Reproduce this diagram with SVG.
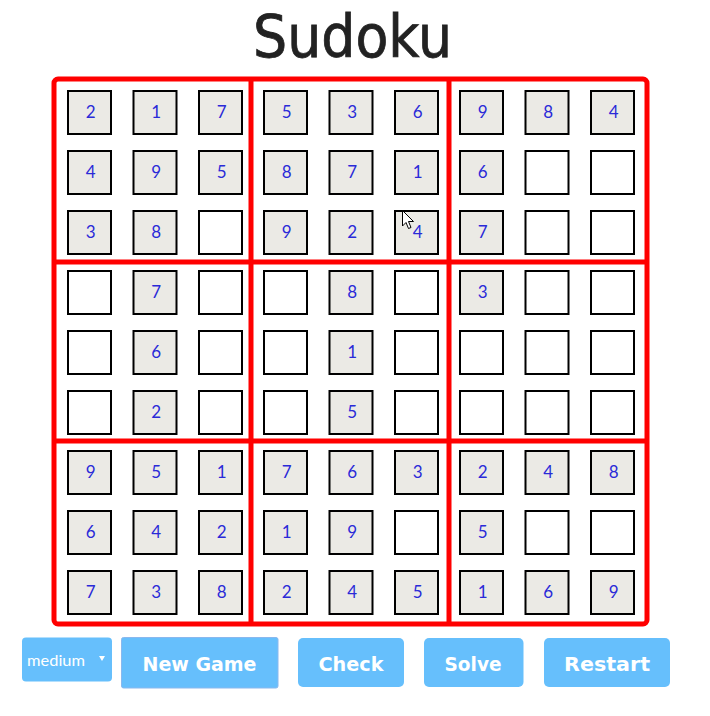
<svg xmlns="http://www.w3.org/2000/svg" width="710" height="716" viewBox="0 0 710 716">
<style>
.c{stroke:#000;stroke-width:2}
.g{fill:#ebeae5}
.e{fill:#fff}
.d{font-family:Lato,"Noto Sans",sans-serif;font-size:17px;fill:#2a2ad8;text-anchor:middle;transform:translateX(1.2px)}
.btn{fill:#66bffc}
.bt{font-family:"Comic Sans MS","DejaVu Sans",sans-serif;font-weight:bold;font-size:19px;fill:#fff;text-anchor:middle}
.red{stroke:#f00;stroke-width:5;fill:none}
</style>
<rect width="710" height="716" fill="#fff"/>
<text x="352.5" y="57" font-family="'Comic Sans MS','DejaVu Sans',sans-serif" font-size="58" fill="#222" stroke="#222" stroke-width="0.8" text-anchor="middle" textLength="199" lengthAdjust="spacingAndGlyphs">Sudoku</text>
<g id="cells">
<g id="r1">
<rect class="c g" x="68" y="91" width="43" height="43"/><text class="d" x="89.5" y="118">2</text>
<rect class="c g" x="133.5" y="91" width="43" height="43"/><text class="d" x="155" y="118">1</text>
<rect class="c g" x="199" y="91" width="43" height="43"/><text class="d" x="220.5" y="118">7</text>
<rect class="c g" x="264" y="91" width="43" height="43"/><text class="d" x="285.5" y="118">5</text>
<rect class="c g" x="329.5" y="91" width="43" height="43"/><text class="d" x="351" y="118">3</text>
<rect class="c g" x="395" y="91" width="43" height="43"/><text class="d" x="416.5" y="118">6</text>
<rect class="c g" x="460" y="91" width="43" height="43"/><text class="d" x="481.5" y="118">9</text>
<rect class="c g" x="525.5" y="91" width="43" height="43"/><text class="d" x="547" y="118">8</text>
<rect class="c g" x="591" y="91" width="43" height="43"/><text class="d" x="612.5" y="118">4</text>
</g>
<g id="r2">
<rect class="c g" x="68" y="151" width="43" height="43"/><text class="d" x="89.5" y="178">4</text>
<rect class="c g" x="133.5" y="151" width="43" height="43"/><text class="d" x="155" y="178">9</text>
<rect class="c g" x="199" y="151" width="43" height="43"/><text class="d" x="220.5" y="178">5</text>
<rect class="c g" x="264" y="151" width="43" height="43"/><text class="d" x="285.5" y="178">8</text>
<rect class="c g" x="329.5" y="151" width="43" height="43"/><text class="d" x="351" y="178">7</text>
<rect class="c g" x="395" y="151" width="43" height="43"/><text class="d" x="416.5" y="178">1</text>
<rect class="c g" x="460" y="151" width="43" height="43"/><text class="d" x="481.5" y="178">6</text>
<rect class="c e" x="525.5" y="151" width="43" height="43"/>
<rect class="c e" x="591" y="151" width="43" height="43"/>
</g>
<g id="r3">
<rect class="c g" x="68" y="211" width="43" height="43"/><text class="d" x="89.5" y="238">3</text>
<rect class="c g" x="133.5" y="211" width="43" height="43"/><text class="d" x="155" y="238">8</text>
<rect class="c e" x="199" y="211" width="43" height="43"/>
<rect class="c g" x="264" y="211" width="43" height="43"/><text class="d" x="285.5" y="238">9</text>
<rect class="c g" x="329.5" y="211" width="43" height="43"/><text class="d" x="351" y="238">2</text>
<rect class="c g" x="395" y="211" width="43" height="43"/><text class="d" x="416.5" y="238">4</text>
<rect class="c g" x="460" y="211" width="43" height="43"/><text class="d" x="481.5" y="238">7</text>
<rect class="c e" x="525.5" y="211" width="43" height="43"/>
<rect class="c e" x="591" y="211" width="43" height="43"/>
</g>
<g id="r4">
<rect class="c e" x="68" y="271" width="43" height="43"/>
<rect class="c g" x="133.5" y="271" width="43" height="43"/><text class="d" x="155" y="298">7</text>
<rect class="c e" x="199" y="271" width="43" height="43"/>
<rect class="c e" x="264" y="271" width="43" height="43"/>
<rect class="c g" x="329.5" y="271" width="43" height="43"/><text class="d" x="351" y="298">8</text>
<rect class="c e" x="395" y="271" width="43" height="43"/>
<rect class="c g" x="460" y="271" width="43" height="43"/><text class="d" x="481.5" y="298">3</text>
<rect class="c e" x="525.5" y="271" width="43" height="43"/>
<rect class="c e" x="591" y="271" width="43" height="43"/>
</g>
<g id="r5">
<rect class="c e" x="68" y="331" width="43" height="43"/>
<rect class="c g" x="133.5" y="331" width="43" height="43"/><text class="d" x="155" y="358">6</text>
<rect class="c e" x="199" y="331" width="43" height="43"/>
<rect class="c e" x="264" y="331" width="43" height="43"/>
<rect class="c g" x="329.5" y="331" width="43" height="43"/><text class="d" x="351" y="358">1</text>
<rect class="c e" x="395" y="331" width="43" height="43"/>
<rect class="c e" x="460" y="331" width="43" height="43"/>
<rect class="c e" x="525.5" y="331" width="43" height="43"/>
<rect class="c e" x="591" y="331" width="43" height="43"/>
</g>
<g id="r6">
<rect class="c e" x="68" y="391" width="43" height="43"/>
<rect class="c g" x="133.5" y="391" width="43" height="43"/><text class="d" x="155" y="418">2</text>
<rect class="c e" x="199" y="391" width="43" height="43"/>
<rect class="c e" x="264" y="391" width="43" height="43"/>
<rect class="c g" x="329.5" y="391" width="43" height="43"/><text class="d" x="351" y="418">5</text>
<rect class="c e" x="395" y="391" width="43" height="43"/>
<rect class="c e" x="460" y="391" width="43" height="43"/>
<rect class="c e" x="525.5" y="391" width="43" height="43"/>
<rect class="c e" x="591" y="391" width="43" height="43"/>
</g>
<g id="r7">
<rect class="c g" x="68" y="451" width="43" height="43"/><text class="d" x="89.5" y="478">9</text>
<rect class="c g" x="133.5" y="451" width="43" height="43"/><text class="d" x="155" y="478">5</text>
<rect class="c g" x="199" y="451" width="43" height="43"/><text class="d" x="220.5" y="478">1</text>
<rect class="c g" x="264" y="451" width="43" height="43"/><text class="d" x="285.5" y="478">7</text>
<rect class="c g" x="329.5" y="451" width="43" height="43"/><text class="d" x="351" y="478">6</text>
<rect class="c g" x="395" y="451" width="43" height="43"/><text class="d" x="416.5" y="478">3</text>
<rect class="c g" x="460" y="451" width="43" height="43"/><text class="d" x="481.5" y="478">2</text>
<rect class="c g" x="525.5" y="451" width="43" height="43"/><text class="d" x="547" y="478">4</text>
<rect class="c g" x="591" y="451" width="43" height="43"/><text class="d" x="612.5" y="478">8</text>
</g>
<g id="r8">
<rect class="c g" x="68" y="511" width="43" height="43"/><text class="d" x="89.5" y="538">6</text>
<rect class="c g" x="133.5" y="511" width="43" height="43"/><text class="d" x="155" y="538">4</text>
<rect class="c g" x="199" y="511" width="43" height="43"/><text class="d" x="220.5" y="538">2</text>
<rect class="c g" x="264" y="511" width="43" height="43"/><text class="d" x="285.5" y="538">1</text>
<rect class="c g" x="329.5" y="511" width="43" height="43"/><text class="d" x="351" y="538">9</text>
<rect class="c e" x="395" y="511" width="43" height="43"/>
<rect class="c g" x="460" y="511" width="43" height="43"/><text class="d" x="481.5" y="538">5</text>
<rect class="c e" x="525.5" y="511" width="43" height="43"/>
<rect class="c e" x="591" y="511" width="43" height="43"/>
</g>
<g id="r9">
<rect class="c g" x="68" y="571" width="43" height="43"/><text class="d" x="89.5" y="598">7</text>
<rect class="c g" x="133.5" y="571" width="43" height="43"/><text class="d" x="155" y="598">3</text>
<rect class="c g" x="199" y="571" width="43" height="43"/><text class="d" x="220.5" y="598">8</text>
<rect class="c g" x="264" y="571" width="43" height="43"/><text class="d" x="285.5" y="598">2</text>
<rect class="c g" x="329.5" y="571" width="43" height="43"/><text class="d" x="351" y="598">4</text>
<rect class="c g" x="395" y="571" width="43" height="43"/><text class="d" x="416.5" y="598">5</text>
<rect class="c g" x="460" y="571" width="43" height="43"/><text class="d" x="481.5" y="598">1</text>
<rect class="c g" x="525.5" y="571" width="43" height="43"/><text class="d" x="547" y="598">6</text>
<rect class="c g" x="591" y="571" width="43" height="43"/><text class="d" x="612.5" y="598">9</text>
</g>
</g>
<g id="frame">
<rect class="red" x="54" y="79" width="593" height="545" rx="4"/>
<line class="red" x1="251" y1="79" x2="251" y2="624"/>
<line class="red" x1="449" y1="79" x2="449" y2="624"/>
<line class="red" x1="54" y1="262" x2="647" y2="262"/>
<line class="red" x1="54" y1="441" x2="647" y2="441"/>
</g>
<g id="cursor">
<path d="M402.5 210.5 L402.5 226 L406 222.5 L408.5 228.5 L411 227.5 L408.5 221.5 L413.5 221.5 Z" fill="#fff" stroke="#000" stroke-width="1" stroke-linejoin="round"/>
</g>
<g id="select">
<rect class="btn" x="22" y="637.5" width="90" height="44" rx="4"/>
<text x="27" y="666" font-family="Lato,'Noto Sans',sans-serif" font-size="16" fill="#fff" textLength="58" lengthAdjust="spacingAndGlyphs">medium</text>
<path d="M99 656 L105 656 L102 661 Z" fill="#fff"/>
</g>
<g id="new-game">
<rect class="btn" x="121.5" y="637.5" width="156.5" height="50.5" rx="2" stroke="#8ab8ee" stroke-width="1"/>
<text class="bt" x="199.5" y="671" textLength="114" lengthAdjust="spacingAndGlyphs">New Game</text>
</g>
<g id="check">
<rect class="btn" x="298" y="638" width="106" height="49" rx="5"/>
<text class="bt" x="351" y="671" textLength="65" lengthAdjust="spacingAndGlyphs">Check</text>
</g>
<g id="solve">
<rect class="btn" x="424" y="638" width="99.5" height="49" rx="5"/>
<text class="bt" x="473" y="671" textLength="57" lengthAdjust="spacingAndGlyphs">Solve</text>
</g>
<g id="restart">
<rect class="btn" x="544" y="638" width="126" height="49" rx="5"/>
<text class="bt" x="607" y="671" textLength="86" lengthAdjust="spacingAndGlyphs">Restart</text>
</g>
</svg>
